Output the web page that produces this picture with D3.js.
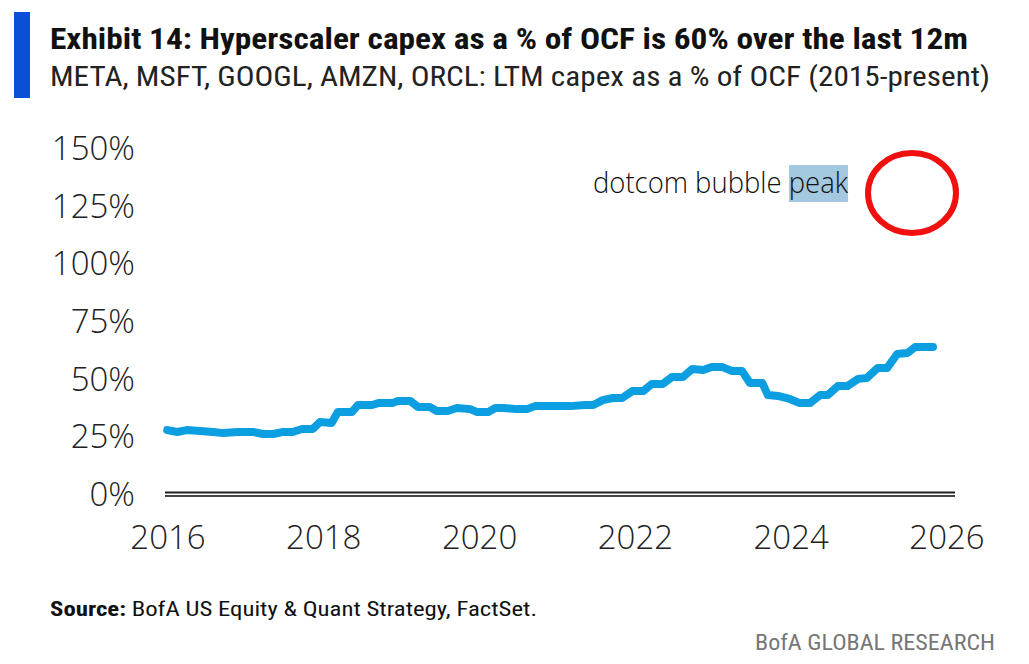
<!DOCTYPE html><html><head><meta charset="utf-8"><script src="https://cdn.jsdelivr.net/npm/d3@7"></script>
<style>body{margin:0;background:#fff}text{font-family:"Liberation Sans Narrow","Roboto Condensed","Liberation Sans",sans-serif}.tk{font-family:"Open Sans",sans-serif;font-weight:300}</style></head><body>
<svg id="c" width="1029" height="664"></svg>
<script>
const years=[2015.99,2016.12,2016.24,2016.58,2016.71,2016.89,2017.09,2017.22,2017.35,2017.48,2017.60,2017.72,2017.86,2017.95,2018.10,2018.18,2018.36,2018.44,2018.62,2018.70,2018.88,2018.95,2019.11,2019.21,2019.36,2019.45,2019.59,2019.71,2019.88,2019.97,2020.11,2020.20,2020.30,2020.48,2020.61,2020.71,2021.16,2021.35,2021.46,2021.58,2021.71,2021.83,2021.96,2022.10,2022.21,2022.35,2022.47,2022.61,2022.73,2022.87,2022.98,2023.11,2023.24,2023.37,2023.47,2023.63,2023.70,2023.83,2023.98,2024.11,2024.24,2024.37,2024.47,2024.60,2024.72,2024.86,2024.97,2025.11,2025.23,2025.36,2025.49,2025.59,2025.74,2025.82];
const capexPct=[27.7,26.9,27.7,26.9,26.4,26.9,26.9,26.0,26.0,26.9,26.9,28.2,28.2,31.2,30.8,35.5,35.5,38.6,38.6,39.4,39.4,40.3,40.3,37.7,37.7,36.0,36.0,37.3,36.8,35.5,35.5,37.3,37.3,36.8,36.8,38.1,38.1,38.6,38.6,40.7,41.6,41.6,44.6,44.6,47.7,47.7,50.7,50.7,54.2,53.8,55.1,55.1,53.3,53.3,48.1,48.1,42.9,42.5,41.2,39.4,39.4,42.9,42.9,46.8,46.8,49.9,50.3,54.6,54.6,60.7,61.1,63.7,63.7,63.7];
const yTicks=[0,25,50,75,100,125,150];
const xTicks=[2016,2018,2020,2022,2024,2026];
const svg=d3.select("#c");
const x=d3.scaleLinear().domain([2016,2026]).range([168,947]);
const y=d3.scaleLinear().domain([0,150]).range([494,148]);
svg.append("rect").attr("x",14).attr("y",12).attr("width",16).attr("height",86).attr("fill","#0a4fd6");
svg.append("text").attr("x",50).attr("y",49).attr("font-size",29).attr("font-weight","bold").attr("fill","#111").attr("textLength",918).attr("lengthAdjust","spacingAndGlyphs").text("Exhibit 14: Hyperscaler capex as a % of OCF is 60% over the last 12m");
svg.append("text").attr("x",50).attr("y",86).attr("font-size",27).attr("fill","#222").attr("textLength",940).attr("lengthAdjust","spacingAndGlyphs").text("META, MSFT, GOOGL, AMZN, ORCL: LTM capex as a % of OCF (2015-present)");
svg.selectAll(".yt").data(yTicks).join("text").attr("class","tk").attr("x",135).attr("y",d=>y(d)+12).attr("text-anchor","end").attr("font-size",33).attr("fill","#222").text(d=>d+"%");
svg.selectAll(".xt").data(xTicks).join("text").attr("class","tk").attr("x",d=>x(d)).attr("y",549).attr("text-anchor","middle").attr("font-size",33).attr("fill","#222").text(d=>d);
svg.append("line").attr("x1",165).attr("x2",955).attr("y1",y(0)-1.5).attr("y2",y(0)-1.5).attr("stroke","#222").attr("stroke-width",2);
svg.append("line").attr("x1",165).attr("x2",955).attr("y1",y(0)+2).attr("y2",y(0)+2).attr("stroke","#444").attr("stroke-width",2);
svg.append("path").datum(years.map((d,i)=>[d,capexPct[i]])).attr("fill","none").attr("stroke","#0b9ee0").attr("stroke-width",8).attr("stroke-linejoin","round").attr("stroke-linecap","round").attr("d",d3.line().x(d=>x(d[0])).y(d=>y(d[1])));
svg.append("rect").attr("x",789).attr("y",165).attr("width",59).attr("height",37).attr("fill","#a3c8df");
svg.append("text").attr("class","tk").attr("x",593).attr("y",193).attr("font-size",29).attr("fill","#111").attr("textLength",255).attr("lengthAdjust","spacingAndGlyphs").text("dotcom bubble peak");
svg.append("ellipse").attr("cx",912).attr("cy",193).attr("rx",44).attr("ry",40).attr("fill","none").attr("stroke","#f01010").attr("stroke-width",6);
const s=svg.append("text").attr("x",50).attr("y",616).attr("font-size",21).attr("fill","#111").attr("textLength",487).attr("lengthAdjust","spacingAndGlyphs");
s.append("tspan").attr("font-weight","bold").text("Source:");
s.append("tspan").text(" BofA US Equity & Quant Strategy, FactSet.");
svg.append("text").attr("x",995).attr("y",650).attr("text-anchor","end").attr("font-size",22).attr("fill","#777").attr("textLength",240).attr("lengthAdjust","spacingAndGlyphs").text("BofA GLOBAL RESEARCH");
</script></body></html>
